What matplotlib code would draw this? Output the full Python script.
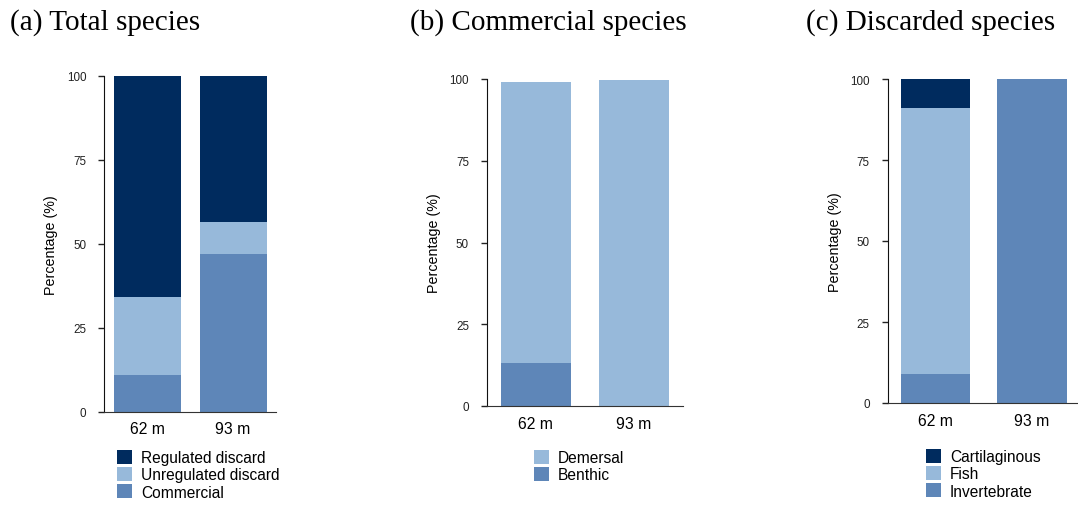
import matplotlib
matplotlib.use("Agg")
import matplotlib.pyplot as plt
import numpy as np

plt.rcParams["font.family"] = ["Liberation Sans", "DejaVu Sans"]

# data
depths = ["62 m", "93 m"]

total_commercial = [10.9, 46.9]
total_unregulated = [23.3, 9.6]
total_regulated = [65.8, 43.5]

comm_benthic = [13.1, 0.0]
comm_demersal = [86.0, 99.7]

disc_invertebrate = [9.0, 100.0]
disc_fish = [82.0, 0.0]
disc_cartilaginous = [9.0, 0.0]

dark = "#002b5e"
light = "#97b9da"
mid = "#5e86b8"

W, H = 1078, 506
fig = plt.figure(figsize=(W / 100, H / 100), dpi=100)


def px_axes(left, right, top, bottom):
    return fig.add_axes([left / W, 1 - bottom / H, (right - left) / W, (bottom - top) / H])


def style(ax):
    ax.set_xlim(-0.5, 1.5)
    ax.set_ylim(0, 100)
    ax.set_yticks([0, 25, 50, 75, 100])
    ax.tick_params(axis="y", labelsize=8.4, length=4, width=1, colors="#222222", pad=9)
    ax.tick_params(axis="x", labelsize=11.3, length=0, pad=7)
    ax.set_xticks(range(len(depths)))
    ax.set_xticklabels(depths)
    for s in ["top", "right"]:
        ax.spines[s].set_visible(False)
    ax.spines["left"].set_color("#111111")
    ax.spines["bottom"].set_color("#333333")
    ax.set_ylabel("Percentage (%)", fontsize=10.3, labelpad=6)


def add_legend(handles, labels, x, y):
    fig.legend(handles, labels, loc="upper left", bbox_to_anchor=(x / W, 1 - y / H),
               frameon=False, fontsize=11.2, handlelength=0.95, handleheight=1.0,
               handletextpad=0.6, labelspacing=0.12, borderpad=0, borderaxespad=0)


x = np.arange(len(depths))

# (a) total species
ax1 = px_axes(104.3, 276, 76.7, 412.7)
style(ax1)
b1 = ax1.bar(x, total_commercial, 0.78, color=mid)
b2 = ax1.bar(x, total_unregulated, 0.78, bottom=total_commercial, color=light)
bot = np.array(total_commercial) + np.array(total_unregulated)
b3 = ax1.bar(x, total_regulated, 0.78, bottom=bot, color=dark)
add_legend([b3, b2, b1], ["Regulated discard", "Unregulated discard", "Commercial"], 117, 451)

# (b) commercial species
ax2 = px_axes(487, 682.7, 80, 407)
style(ax2)
c1 = ax2.bar(x, comm_benthic, 0.72, color=mid)
c2 = ax2.bar(x, comm_demersal, 0.72, bottom=comm_benthic, color=light)
add_legend([c2, c1], ["Demersal", "Benthic"], 534, 451)

# (c) discarded species
ax3 = px_axes(887.7, 1080, 80, 404)
style(ax3)
d1 = ax3.bar(x, disc_invertebrate, 0.72, color=mid)
d2 = ax3.bar(x, disc_fish, 0.72, bottom=disc_invertebrate, color=light)
bot = np.array(disc_invertebrate) + np.array(disc_fish)
d3 = ax3.bar(x, disc_cartilaginous, 0.72, bottom=bot, color=dark)
add_legend([d3, d2, d1], ["Cartilaginous", "Fish", "Invertebrate"], 926, 450)

titles = [("(a) Total species", 10), ("(b) Commercial species", 410), ("(c) Discarded species", 806)]
for t, xp in titles:
    fig.text(xp / W, 1 - 30 / H, t, fontsize=21, family="Liberation Serif", va="baseline", ha="left")

fig.savefig("out.png", dpi=100)
